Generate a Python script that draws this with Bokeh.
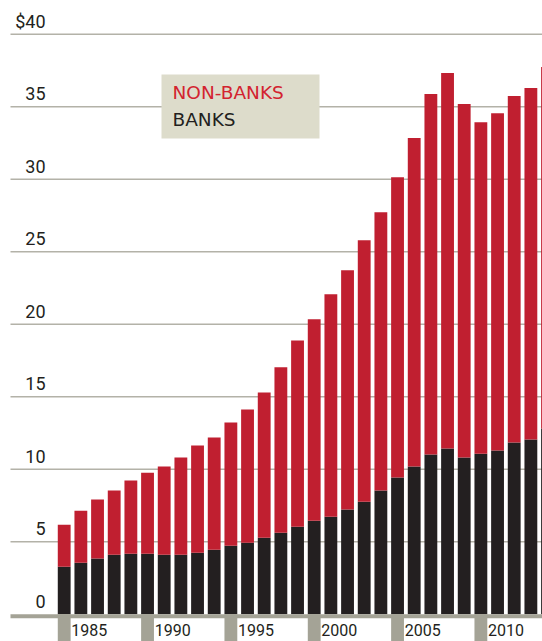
from bokeh.plotting import figure
from bokeh.models import ColumnDataSource, Range1d
from bokeh.core.properties import value
from bokeh.embed import file_html
from bokeh.resources import INLINE

# ---- data (US$ trillions) ----
years = list(range(1983, 2013))
banks = [3.28, 3.56, 3.84, 4.11, 4.18, 4.18, 4.11, 4.11, 4.25, 4.45,
         4.73, 4.94, 5.28, 5.63, 6.04, 6.46, 6.73, 7.22, 7.77, 8.53,
         9.43, 10.19, 11.02, 11.43, 10.81, 11.08, 11.29, 11.84, 12.05, 12.81]
non_banks = [2.90, 3.59, 4.07, 4.42, 5.04, 5.59, 6.08, 6.70, 7.39, 7.74,
             8.50, 9.18, 10.02, 11.40, 12.85, 13.88, 15.34, 16.50, 18.02, 19.20,
             20.72, 22.65, 24.86, 25.90, 24.38, 22.86, 23.27, 23.90, 24.24, 24.93]
y_ticks = [0, 5, 10, 15, 20, 25, 30, 35, 40]
y_tick_labels = ["0", "5", "10", "15", "20", "25", "30", "35", "$40"]
x_label_years = [1985, 1990, 1995, 2000, 2005, 2010]
x_labels = ["1985", "1990", "1995", "2000", "2005", "2010"]
series_names = ["BANKS", "NON-BANKS"]

RED = "#c01f30"
BLACK = "#231f20"
GRID = "#b3b2a8"
AXIS = "#a4a396"
BOX = "#dddccb"
FONT = "Roboto"
LEGEND_FONT = "DejaVu Sans"

W, H = 542, 641
px_per_year = 16.667
x_start = 1983 - 63.7 / px_per_year
x_end = x_start + W / px_per_year
px_per_unit = 14.5
zero_px = 613.8  # from top of figure
y_end = zero_px / px_per_unit
y_start = -(H - zero_px) / px_per_unit

p = figure(width=W, height=H, output_backend="svg", toolbar_location=None,
           x_range=Range1d(x_start, x_end), y_range=Range1d(y_start, y_end),
           min_border=0, border_fill_color="white", background_fill_color="white")
p.outline_line_color = None
p.xaxis.visible = False
p.yaxis.visible = False
p.grid.visible = False


def px_to_x(px):
    return x_start + px / px_per_year


def py_to_y(py):
    return (zero_px - py) / px_per_unit


unit = 1 / px_per_unit
left_edge = px_to_x(10)

# gridlines
p.segment(x0=[left_edge] * 8, x1=[x_end] * 8, y0=y_ticks[1:], y1=y_ticks[1:],
          line_color=GRID, line_width=1.4)

# stacked bars
src = ColumnDataSource(dict(year=years, BANKS=banks, **{"NON-BANKS": non_banks}))
p.vbar_stack(series_names, x="year", width=0.77, source=src,
             color=[BLACK, RED], line_color=None)

# zero axis (thick) and tick blocks
p.quad(left=[left_edge], right=[x_end], top=[0], bottom=[-4 * unit],
       fill_color=AXIS, line_color=None)
tick_years = [y - 2 for y in x_label_years]
p.quad(left=[t - 0.385 for t in tick_years], right=[t + 0.385 for t in tick_years],
       top=[0] * len(tick_years), bottom=[y_start] * len(tick_years),
       fill_color=AXIS, line_color=None)

# x labels
p.text(x=[t + 0.43 for t in tick_years], y=[py_to_y(629)] * len(x_labels), text=x_labels,
       text_font=value(FONT), text_font_size="16px", text_color=BLACK,
       text_align="left", text_baseline="alphabetic")

# y labels (above gridlines)
p.text(x=[px_to_x(45)] * len(y_ticks), y=[v + 13.3 * unit for v in y_ticks], text=y_tick_labels,
       text_font=value(FONT), text_font_size="18px", text_color=BLACK,
       text_align="right", text_baseline="alphabetic")

# legend box
p.quad(left=[px_to_x(161)], right=[px_to_x(319)], top=[py_to_y(74)], bottom=[py_to_y(138)],
       fill_color=BOX, line_color=None)
p.text(x=[px_to_x(172)], y=[py_to_y(92)], text=["NON-BANKS"],
       text_font=value(LEGEND_FONT), text_font_size="18.5px", text_color="#d3232f",
       text_align="left", text_baseline="alphabetic")
p.text(x=[px_to_x(172)], y=[py_to_y(118.5)], text=["BANKS"],
       text_font=value(LEGEND_FONT), text_font_size="18.5px", text_color=BLACK,
       text_align="left", text_baseline="alphabetic")

open("out.html", "w").write(file_html(p, INLINE))
